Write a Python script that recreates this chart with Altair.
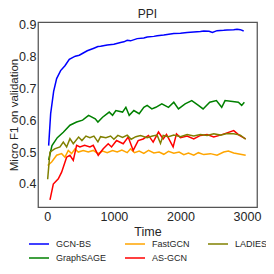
import altair as alt
import pandas as pd

series_order = ["GCN-BS", "GraphSAGE", "FastGCN", "AS-GCN", "LADIES"]
series_colors = ["#0000ff", "#008000", "#ffa500", "#ff0000", "#808000"]

gcnbs_t = [20, 50, 95, 140, 200, 265, 330, 420, 480, 540, 600, 700, 760, 800, 900, 1000, 1100, 1150, 1200, 1250,
           1350, 1450, 1500, 1600, 1650, 1750, 1800, 1900, 2000, 2100, 2200, 2300, 2350, 2430, 2480, 2550, 2650,
           2700, 2800, 2850, 2900, 2950]
gcnbs_v = [0.52, 0.62, 0.69, 0.73, 0.755, 0.77, 0.79, 0.80, 0.803, 0.81, 0.817, 0.825, 0.83, 0.831, 0.835, 0.8375,
           0.843, 0.845, 0.85, 0.848, 0.855, 0.857, 0.86, 0.862, 0.864, 0.866, 0.868, 0.871, 0.872, 0.874, 0.876,
           0.877, 0.879, 0.878, 0.874, 0.880, 0.881, 0.882, 0.883, 0.884, 0.883, 0.879]

sage_t = [20, 70, 150, 240, 340, 440, 530, 620, 720, 760, 830, 930, 980, 1030, 1130, 1180, 1230, 1300, 1380, 1450,
          1500, 1570, 1630, 1720, 1820, 1900, 1970, 2070, 2170, 2270, 2340, 2440, 2540, 2620, 2670, 2870, 2920, 2960]
sage_v = [0.475, 0.52, 0.545, 0.562, 0.584, 0.594, 0.600, 0.615, 0.604, 0.594, 0.609, 0.625, 0.615, 0.63, 0.625,
          0.64, 0.615, 0.63, 0.62, 0.64, 0.646, 0.635, 0.64, 0.651, 0.64, 0.656, 0.635, 0.651, 0.661, 0.646, 0.635,
          0.656, 0.661, 0.64, 0.661, 0.656, 0.646, 0.656]

fast_t = [5, 65, 140, 215, 265, 315, 365, 415, 465, 540, 615, 690, 760, 830, 900, 980, 1050, 1120, 1200, 1250,
          1310, 1380, 1450, 1520, 1600, 1680, 1750, 1820, 1900, 1980, 2050, 2120, 2200, 2270, 2350, 2450, 2550,
          2650, 2720, 2800, 2900, 2980]
fast_v = [0.458, 0.469, 0.49, 0.495, 0.484, 0.505, 0.495, 0.51, 0.5, 0.505, 0.5, 0.505, 0.495, 0.503, 0.498,
          0.505, 0.5, 0.506, 0.498, 0.51, 0.498, 0.503, 0.496, 0.505, 0.497, 0.5, 0.493, 0.502, 0.496, 0.5, 0.492,
          0.497, 0.49, 0.498, 0.492, 0.495, 0.49, 0.5, 0.503, 0.497, 0.493, 0.49]

asgcn_t = [40, 90, 165, 215, 290, 340, 390, 440, 490, 560, 640, 690, 765, 840, 915, 965, 1040, 1140, 1215, 1290,
           1365, 1440, 1520, 1590, 1670, 1740, 1790, 1890, 1940, 2000, 2100, 2200, 2300, 2400, 2500, 2600, 2700,
           2800, 2880, 2980]
asgcn_v = [0.35, 0.40, 0.416, 0.437, 0.484, 0.49, 0.474, 0.521, 0.516, 0.521, 0.516, 0.521, 0.49, 0.51, 0.526,
           0.516, 0.536, 0.526, 0.547, 0.505, 0.536, 0.541, 0.552, 0.531, 0.5625, 0.541, 0.555, 0.516, 0.557, 0.545,
           0.55, 0.541, 0.552, 0.555, 0.547, 0.553, 0.56, 0.567, 0.553, 0.541]

ladies_t = [5, 40, 110, 190, 240, 290, 340, 390, 470, 520, 580, 640, 700, 760, 800, 880, 950, 1000, 1060, 1130,
            1200, 1260, 1330, 1400, 1500, 1580, 1650, 1700, 1740, 1820, 1900, 2000, 2100, 2200, 2300, 2400, 2500,
            2600, 2700, 2800, 2900, 2980]
ladies_v = [0.415, 0.50, 0.51, 0.516, 0.531, 0.516, 0.542, 0.526, 0.547, 0.536, 0.55, 0.545, 0.55, 0.532, 0.548,
            0.545, 0.55, 0.54, 0.552, 0.546, 0.553, 0.54, 0.548, 0.552, 0.545, 0.55, 0.553, 0.527, 0.552, 0.548,
            0.553, 0.548, 0.555, 0.55, 0.555, 0.552, 0.557, 0.553, 0.558, 0.557, 0.553, 0.54]

draw_order = [("GCN-BS", gcnbs_t, gcnbs_v), ("GraphSAGE", sage_t, sage_v), ("FastGCN", fast_t, fast_v),
              ("AS-GCN", asgcn_t, asgcn_v), ("LADIES", ladies_t, ladies_v)]

rows = []
for k, (name, ts, vs) in enumerate(draw_order):
    for t, v in zip(ts, vs):
        rows.append({"method": name, "time": t, "f1": v, "z": k})
df = pd.DataFrame(rows)

FONT = "Liberation Sans"

chart = alt.Chart(df).mark_line(strokeWidth=1.5, clip=True).encode(
    x=alt.X("time:Q", scale=alt.Scale(domain=[-140, 3150], nice=False, zero=False),
            axis=alt.Axis(values=[0, 1000, 2000, 3000], format="d", title="Time", ticks=False, domain=False,
                          grid=False, labelFontSize=12.5, labelPadding=3, titleFontSize=12.5, titlePadding=3,
                          labelColor="#262626", titleColor="#262626", titleFontWeight="normal")),
    y=alt.Y("f1:Q", scale=alt.Scale(domain=[0.328, 0.907], nice=False, zero=False),
            axis=alt.Axis(values=[0.4, 0.5, 0.6, 0.7, 0.8, 0.9], format=".1f", title="Micro F1 on validation",
                          ticks=False, domain=False, grid=False, labelFontSize=12.5, labelPadding=2,
                          titleFontSize=11.5, titlePadding=-1, labelColor="#262626", titleColor="#262626",
                          titleFontWeight="normal")),
    color=alt.Color("method:N", scale=alt.Scale(domain=series_order, range=series_colors),
                    legend=alt.Legend(title=None, orient="none", legendX=-10, legendY=215, columns=3,
                                      symbolType="stroke", symbolSize=400, symbolStrokeWidth=1.5,
                                      labelFontSize=9, labelFont=FONT, labelColor="#262626", labelOffset=6,
                                      columnPadding=17, rowPadding=0, clipHeight=14, gridAlign="each")),
    order=alt.Order("z:Q"),
    detail="method:N",
).properties(
    width=219, height=185,
    title=alt.TitleParams("PPI", fontSize=12, font=FONT, fontWeight="normal", color="#262626", offset=-12,
                          baseline="alphabetic", frame="group"),
    autosize=alt.AutoSizeParams(type="none"),
    padding={"left": 30, "top": 14, "right": 9, "bottom": 59},
).configure_view(
    stroke="#555555", strokeWidth=1.25
).configure_axis(
    labelFont=FONT, titleFont=FONT
)

chart.save("out.html", embed_options={"renderer": "svg", "actions": False})
